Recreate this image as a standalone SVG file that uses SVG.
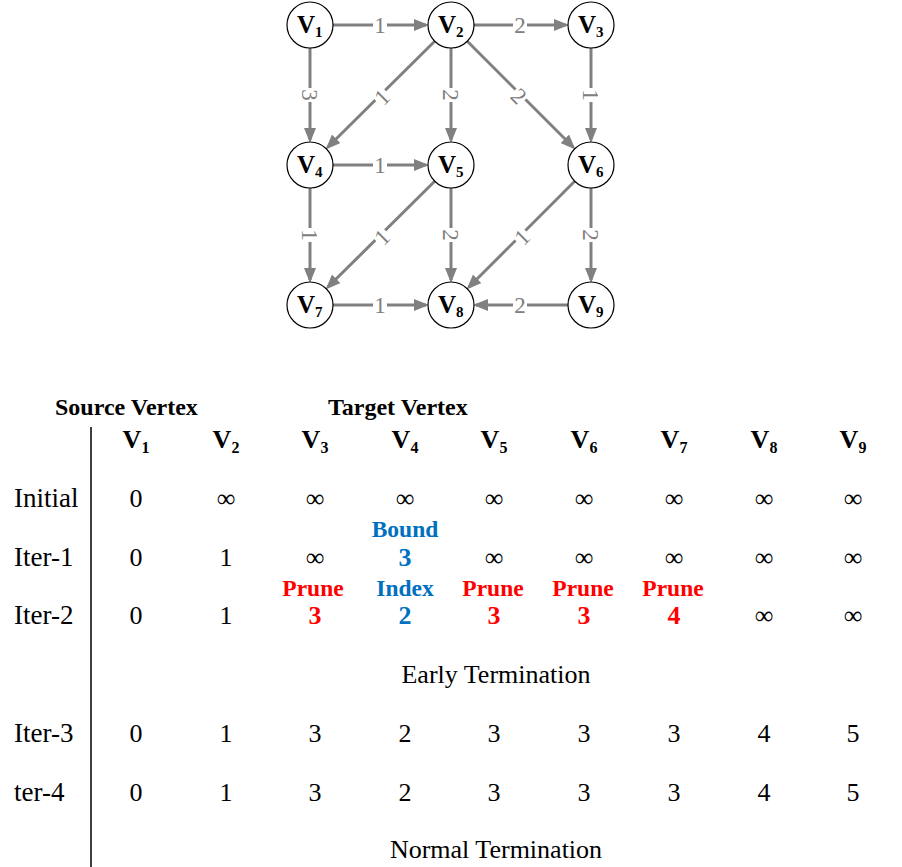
<svg xmlns="http://www.w3.org/2000/svg" width="902" height="867" viewBox="0 0 902 867">
<style>
.node circle{fill:#fff;stroke:#000;stroke-width:1.2}
.nl{font-family:"Liberation Serif",serif;font-weight:bold;font-size:25px;fill:#000}
.nl .s{font-size:15px}
.edge{stroke:#808080;stroke-width:3;fill:none}
.el text{font-family:"Liberation Serif",serif;font-size:23px;fill:#808080;text-anchor:middle}
.el rect{fill:#fff}
.t{font-family:"Liberation Serif",serif;font-size:26px;fill:#000;text-anchor:middle}
.hd{font-family:"Liberation Serif",serif;font-size:24px;font-weight:bold;fill:#000}
.ch{font-family:"Liberation Serif",serif;font-size:26px;font-weight:bold;fill:#000;text-anchor:middle}
.ch .s{font-size:16px}
.rl{font-family:"Liberation Serif",serif;font-size:27px;fill:#000;text-anchor:start}
.b{font-weight:bold}
.blue{fill:#0070C0}
.red{fill:#FF0000}
.tag{font-family:"Liberation Serif",serif;font-size:23.5px;font-weight:bold;text-anchor:middle}
</style>
<defs>
<marker id="ah" markerUnits="userSpaceOnUse" markerWidth="15" markerHeight="12" refX="12" refY="6" orient="auto">
<path d="M0,0 L15,6 L0,12 z" fill="#808080"/>
</marker>
<g id="lb"><rect x="-8" y="-9" width="16" height="18"/></g>
</defs>
<g id="connectors">
<line class="edge" x1="333" y1="25" x2="426" y2="25" marker-end="url(#ah)"/>
<line class="edge" x1="474" y1="25" x2="566" y2="25" marker-end="url(#ah)"/>
<line class="edge" x1="310" y1="48" x2="310" y2="140" marker-end="url(#ah)"/>
<line class="edge" x1="434.7" y1="41.3" x2="327.7" y2="147.3" marker-end="url(#ah)"/>
<line class="edge" x1="451" y1="48" x2="451" y2="140" marker-end="url(#ah)"/>
<line class="edge" x1="467.3" y1="41.3" x2="573.3" y2="147.3" marker-end="url(#ah)"/>
<line class="edge" x1="591" y1="48" x2="591" y2="140" marker-end="url(#ah)"/>
<line class="edge" x1="333" y1="165" x2="426" y2="165" marker-end="url(#ah)"/>
<line class="edge" x1="310" y1="188" x2="310" y2="280" marker-end="url(#ah)"/>
<line class="edge" x1="434.7" y1="181.3" x2="327.7" y2="287.3" marker-end="url(#ah)"/>
<line class="edge" x1="451" y1="188" x2="451" y2="280" marker-end="url(#ah)"/>
<line class="edge" x1="574.7" y1="181.3" x2="468.7" y2="287.3" marker-end="url(#ah)"/>
<line class="edge" x1="591" y1="188" x2="591" y2="280" marker-end="url(#ah)"/>
<line class="edge" x1="333" y1="305" x2="426" y2="305" marker-end="url(#ah)"/>
<line class="edge" x1="568" y1="305" x2="476" y2="305" marker-end="url(#ah)"/>
<g class="el" transform="translate(380,25)"><rect x="-7" y="-9" width="14" height="18"/><text y="8">1</text></g>
<g class="el" transform="translate(520,25)"><rect x="-7" y="-9" width="14" height="18"/><text y="8">2</text></g>
<g class="el" transform="translate(310,95) rotate(90)"><rect x="-7" y="-9" width="14" height="18"/><text y="8">3</text></g>
<g class="el" transform="translate(382,97) rotate(-45)"><rect x="-7" y="-9" width="14" height="18"/><text y="8">1</text></g>
<g class="el" transform="translate(451,95) rotate(90)"><rect x="-7" y="-9" width="14" height="18"/><text y="8">2</text></g>
<g class="el" transform="translate(519,96) rotate(45)"><rect x="-7" y="-9" width="14" height="18"/><text y="8">2</text></g>
<g class="el" transform="translate(591,95) rotate(90)"><rect x="-7" y="-9" width="14" height="18"/><text y="8">1</text></g>
<g class="el" transform="translate(380,165)"><rect x="-7" y="-9" width="14" height="18"/><text y="8">1</text></g>
<g class="el" transform="translate(310,235) rotate(90)"><rect x="-7" y="-9" width="14" height="18"/><text y="8">1</text></g>
<g class="el" transform="translate(382,237) rotate(-45)"><rect x="-7" y="-9" width="14" height="18"/><text y="8">1</text></g>
<g class="el" transform="translate(451,235) rotate(90)"><rect x="-7" y="-9" width="14" height="18"/><text y="8">2</text></g>
<g class="el" transform="translate(522,237) rotate(-45)"><rect x="-7" y="-9" width="14" height="18"/><text y="8">1</text></g>
<g class="el" transform="translate(591,235) rotate(90)"><rect x="-7" y="-9" width="14" height="18"/><text y="8">2</text></g>
<g class="el" transform="translate(380,305)"><rect x="-7" y="-9" width="14" height="18"/><text y="8">1</text></g>
<g class="el" transform="translate(520,305)"><rect x="-7" y="-9" width="14" height="18"/><text y="8">2</text></g>
</g>
<g id="v1" class="node"><circle cx="310" cy="25" r="23"/><text class="nl" x="297" y="33">V<tspan class="s" dy="4">1</tspan></text></g>
<g id="v2" class="node"><circle cx="451" cy="25" r="23"/><text class="nl" x="438" y="33">V<tspan class="s" dy="4">2</tspan></text></g>
<g id="v3" class="node"><circle cx="591" cy="25" r="23"/><text class="nl" x="578" y="33">V<tspan class="s" dy="4">3</tspan></text></g>
<g id="v4" class="node"><circle cx="310" cy="165" r="23"/><text class="nl" x="297" y="173">V<tspan class="s" dy="4">4</tspan></text></g>
<g id="v5" class="node"><circle cx="451" cy="165" r="23"/><text class="nl" x="438" y="173">V<tspan class="s" dy="4">5</tspan></text></g>
<g id="v6" class="node"><circle cx="591" cy="165" r="23"/><text class="nl" x="578" y="173">V<tspan class="s" dy="4">6</tspan></text></g>
<g id="v7" class="node"><circle cx="310" cy="305" r="23"/><text class="nl" x="297" y="313">V<tspan class="s" dy="4">7</tspan></text></g>
<g id="v8" class="node"><circle cx="451" cy="305" r="23"/><text class="nl" x="438" y="313">V<tspan class="s" dy="4">8</tspan></text></g>
<g id="v9" class="node"><circle cx="591" cy="305" r="23"/><text class="nl" x="578" y="313">V<tspan class="s" dy="4">9</tspan></text></g>
<g id="table">
<text class="hd" x="55" y="415">Source Vertex</text>
<text class="hd" x="328" y="415">Target Vertex</text>
<line x1="91" y1="427" x2="91" y2="867" stroke="#000" stroke-width="1.5"/>
<text class="ch" x="136" y="448">V<tspan class="s" dy="5">1</tspan></text>
<text class="ch" x="226" y="448">V<tspan class="s" dy="5">2</tspan></text>
<text class="ch" x="315" y="448">V<tspan class="s" dy="5">3</tspan></text>
<text class="ch" x="405" y="448">V<tspan class="s" dy="5">4</tspan></text>
<text class="ch" x="494" y="448">V<tspan class="s" dy="5">5</tspan></text>
<text class="ch" x="584" y="448">V<tspan class="s" dy="5">6</tspan></text>
<text class="ch" x="674" y="448">V<tspan class="s" dy="5">7</tspan></text>
<text class="ch" x="764" y="448">V<tspan class="s" dy="5">8</tspan></text>
<text class="ch" x="853" y="448">V<tspan class="s" dy="5">9</tspan></text>
<text class="rl" x="14" y="507">Initial</text>
<text class="t" x="136" y="507">0</text>
<text class="t" x="226" y="507">∞</text>
<text class="t" x="315" y="507">∞</text>
<text class="t" x="405" y="507">∞</text>
<text class="t" x="494" y="507">∞</text>
<text class="t" x="584" y="507">∞</text>
<text class="t" x="674" y="507">∞</text>
<text class="t" x="764" y="507">∞</text>
<text class="t" x="853" y="507">∞</text>
<text class="tag blue" x="405" y="537">Bound</text>
<text class="rl" x="14" y="566">Iter-1</text>
<text class="t" x="136" y="566">0</text>
<text class="t" x="226" y="566">1</text>
<text class="t" x="315" y="566">∞</text>
<text class="t b blue" x="405" y="566">3</text>
<text class="t" x="494" y="566">∞</text>
<text class="t" x="584" y="566">∞</text>
<text class="t" x="674" y="566">∞</text>
<text class="t" x="764" y="566">∞</text>
<text class="t" x="853" y="566">∞</text>
<text class="tag red" x="313" y="596">Prune</text>
<text class="tag blue" x="405" y="596">Index</text>
<text class="tag red" x="493" y="596">Prune</text>
<text class="tag red" x="583" y="596">Prune</text>
<text class="tag red" x="673" y="596">Prune</text>
<text class="rl" x="14" y="624">Iter-2</text>
<text class="t" x="136" y="624">0</text>
<text class="t" x="226" y="624">1</text>
<text class="t b red" x="315" y="624">3</text>
<text class="t b blue" x="405" y="624">2</text>
<text class="t b red" x="494" y="624">3</text>
<text class="t b red" x="584" y="624">3</text>
<text class="t b red" x="674" y="624">4</text>
<text class="t" x="764" y="624">∞</text>
<text class="t" x="853" y="624">∞</text>
<text class="t" x="496" y="683">Early Termination</text>
<text class="rl" x="14" y="742">Iter-3</text>
<text class="t" x="136" y="742">0</text>
<text class="t" x="226" y="742">1</text>
<text class="t" x="315" y="742">3</text>
<text class="t" x="405" y="742">2</text>
<text class="t" x="494" y="742">3</text>
<text class="t" x="584" y="742">3</text>
<text class="t" x="674" y="742">3</text>
<text class="t" x="764" y="742">4</text>
<text class="t" x="853" y="742">5</text>
<text class="rl" x="14" y="801">ter-4</text>
<text class="t" x="136" y="801">0</text>
<text class="t" x="226" y="801">1</text>
<text class="t" x="315" y="801">3</text>
<text class="t" x="405" y="801">2</text>
<text class="t" x="494" y="801">3</text>
<text class="t" x="584" y="801">3</text>
<text class="t" x="674" y="801">3</text>
<text class="t" x="764" y="801">4</text>
<text class="t" x="853" y="801">5</text>
<text class="t" x="496" y="858">Normal Termination</text>
</g>
</svg>
